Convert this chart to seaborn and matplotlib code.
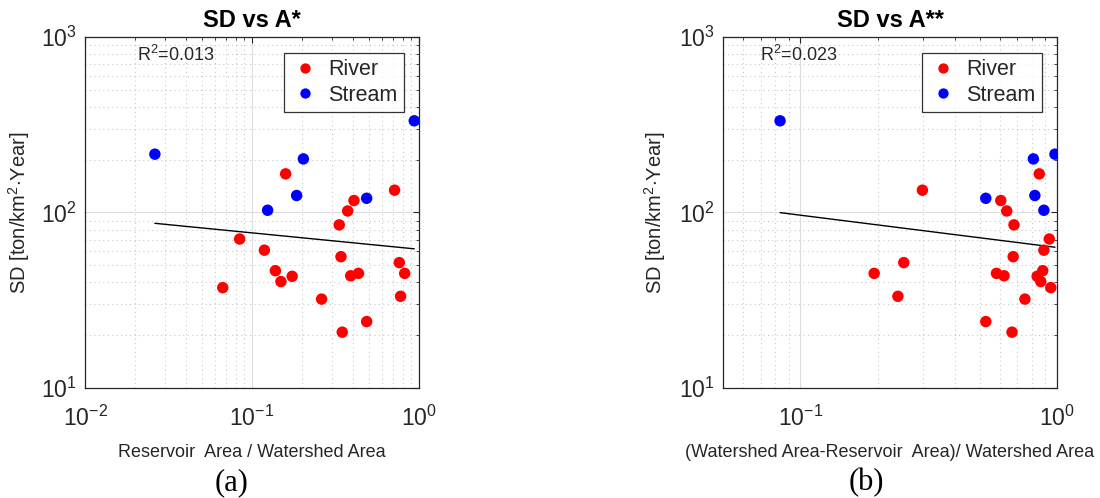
import numpy as np
import pandas as pd
import matplotlib
matplotlib.use("Agg")
import matplotlib.pyplot as plt
import seaborn as sns
from matplotlib.ticker import LogLocator, NullFormatter, LogFormatterSciNotation

# ---- data ----
sd_river = [166, 134, 117, 102, 85, 70.6, 61, 56, 51.8, 45, 46.6, 43.3, 40.4, 43.6, 45, 37.3, 32.1, 33.3, 23.9, 20.8]
a_river = [0.159, 0.714, 0.408, 0.374, 0.333, 0.0843, 0.1186, 0.341, 0.762, 0.821, 0.138, 0.174, 0.149, 0.390, 0.434, 0.0668, 0.261, 0.776, 0.486, 0.347]
a2_river = [0.853, 0.299, 0.604, 0.637, 0.680, 0.933, 0.889, 0.675, 0.253, 0.194, 0.880, 0.837, 0.865, 0.622, 0.581, 0.946, 0.750, 0.240, 0.528, 0.668]

sd_stream = [215, 333, 202, 125, 120.5, 103]
a_stream = [0.0262, 0.937, 0.203, 0.185, 0.486, 0.124]
a2_stream = [0.982, 0.0834, 0.809, 0.820, 0.528, 0.889]

r2_labels = ["R$^2$=0.013", "R$^2$=0.023"]
titles = ["SD vs A*", "SD vs A**"]
xlabels = ["Reservoir  Area / Watershed Area", "(Watershed Area-Reservoir  Area)/ Watershed Area"]
captions = ["(a)", "(b)"]
ylabel = "SD [ton/km$^2$$\\cdot$Year]"

sns.set_style("white")
plt.rcParams["font.family"] = ["Liberation Sans", "DejaVu Sans"]
plt.rcParams["mathtext.fontset"] = "custom"
plt.rcParams["mathtext.rm"] = "Liberation Sans"
plt.rcParams["mathtext.it"] = "Liberation Sans:italic"
plt.rcParams["mathtext.bf"] = "Liberation Sans:bold"

TXT = "#262626"
fig = plt.figure(figsize=(11, 4.98), dpi=100)
axes = [fig.add_axes([0.0773, 0.2209, 0.3036, 0.7048]),
        fig.add_axes([0.6573, 0.2209, 0.3036, 0.7048])]

xs = [(a_river, a_stream), (a2_river, a2_stream)]
xlims = [(0.01, 1.0), (0.05, 1.0)]
r2_x = [0.156, 0.11]
ylab_x = [-0.159, -0.165]

for i, ax in enumerate(axes):
    xr, xst = xs[i]
    df = pd.DataFrame({
        "x": list(xr) + list(xst),
        "SD": sd_river + sd_stream,
        "type": ["River"] * len(xr) + ["Stream"] * len(xst),
    })
    ax.set_xscale("log")
    ax.set_yscale("log")
    sns.scatterplot(data=df, x="x", y="SD", hue="type",
                    palette={"River": "#ff0000", "Stream": "#0000ff"},
                    s=68, edgecolor="none", ax=ax, zorder=3)
    # regression in log-log space
    lx = np.log10(df["x"].values)
    ly = np.log10(df["SD"].values)
    m, b = np.polyfit(lx, ly, 1)
    xx = np.array([df["x"].min(), df["x"].max()])
    ax.plot(xx, 10 ** (m * np.log10(xx) + b), color="black", lw=1.0, zorder=2)

    ax.set_xlim(*xlims[i])
    ax.set_ylim(10, 1000)
    ax.xaxis.set_major_locator(LogLocator(base=10, numticks=10))
    ax.xaxis.set_minor_locator(LogLocator(base=10, subs=np.arange(2, 10), numticks=20))
    ax.yaxis.set_major_locator(LogLocator(base=10, numticks=10))
    ax.yaxis.set_minor_locator(LogLocator(base=10, subs=np.arange(2, 10), numticks=20))
    ax.xaxis.set_minor_formatter(NullFormatter())
    ax.yaxis.set_minor_formatter(NullFormatter())
    ax.xaxis.set_major_formatter(LogFormatterSciNotation())
    ax.yaxis.set_major_formatter(LogFormatterSciNotation())

    ax.grid(True, which="major", color="#dcdcdc", lw=0.8, ls="-")
    ax.grid(True, which="minor", color="#c8c8c8", lw=0.8, ls=(0, (1, 3)))
    ax.set_axisbelow(True)
    ax.tick_params(which="both", direction="in", top=True, right=True,
                   colors=TXT, labelsize=16.5, length=4)
    ax.tick_params(which="minor", length=2)
    ax.tick_params(axis="x", pad=13)
    ax.tick_params(axis="y", pad=6)
    for sp in ax.spines.values():
        sp.set_color(TXT)
        sp.set_linewidth(0.9)

    ax.set_title(titles[i], fontsize=17, fontweight="bold", color="black", pad=7)
    ax.set_xlabel(xlabels[i], fontsize=13, color=TXT)
    ax.set_ylabel(ylabel, fontsize=14.5, color=TXT)
    ax.xaxis.set_label_coords(0.5, -0.16)
    ax.yaxis.set_label_coords(ylab_x[i], 0.5)

    ax.text(r2_x[i], 0.95, r2_labels[i], transform=ax.transAxes, fontsize=13,
            color=TXT, ha="left", va="center")

    leg = ax.legend(loc="upper right", bbox_to_anchor=(0.955, 0.955), borderaxespad=0,
                    fontsize=15.5, frameon=True, fancybox=False, handletextpad=0.45,
                    borderpad=0.3, labelspacing=0.2, markerscale=0.9, title=None,
                    handlelength=1.3)
    leg.get_frame().set_edgecolor("black")
    leg.get_frame().set_linewidth(0.9)

fig.text(232 / 1100, 1 - 483 / 498, captions[0], fontsize=22, family="Liberation Serif",
         ha="center", va="center", color="black")
fig.text(866 / 1100, 1 - 483 / 498, captions[1], fontsize=22, family="Liberation Serif",
         ha="center", va="center", color="black")

fig.savefig("out.png", dpi=100, facecolor="white")
